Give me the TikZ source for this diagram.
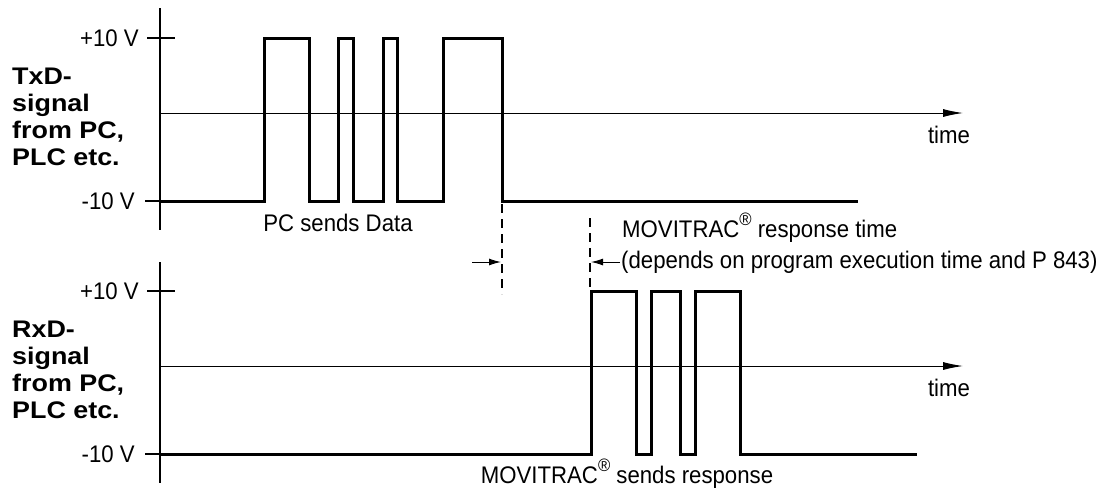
\documentclass[tikz,border=0pt]{standalone}
\usepackage{fontspec}
\setmainfont[FakeStretch=0.925,BoldFeatures={FakeStretch=1.12}]{Liberation Sans}
\usetikzlibrary{arrows.meta}
\newcommand{\regmark}{\raisebox{12pt}{\fontsize{18}{18}\selectfont\textregistered}}
\begin{document}
\begin{tikzpicture}[x=1pt,y=-1pt,
  txt/.style={inner sep=0pt,font=\fontsize{24}{26}\selectfont},
  lbl/.style={inner sep=0pt,align=left,font=\bfseries\fontsize{24}{27}\selectfont},
  axisline/.style={line width=1.5pt},
  midline/.style={line width=1pt,-{Latex[length=20pt,width=8pt]}},
  sig/.style={line width=3pt,line join=miter,line cap=butt},
  dim/.style={line width=1.2pt,dash pattern=on 9pt off 6pt},
  dimarrow/.style={line width=1pt,-{Latex[length=12pt,width=7pt]}}]
\useasboundingbox (0,0) rectangle (1105,488);
% ---------- top diagram ----------
\draw[axisline] (160,8) -- (160,230);
\draw[axisline] (147,38) -- (175,38);
\draw[axisline] (145,201) -- (160,201);
\draw[midline] (160,113) -- (963,113);
\node[txt,anchor=east] (tp) at (139,38) {+10 V};
\node[txt,anchor=east] (tm) at (135,201) {-10 V};
\node[lbl,anchor=west] (tl) at (12,117) {TxD-\\signal\\from PC,\\PLC etc.};
\node[txt,anchor=base] (tt) at (949,143) {time};
\draw[sig] (160,201) -- (264,201) -- (264,38) -- (309,38) -- (309,201) -- (338,201) -- (338,38)
  -- (353,38) -- (353,201) -- (383,201) -- (383,38) -- (397,38) -- (397,201) -- (443,201)
  -- (443,38) -- (502,38) -- (502,201) -- (858,201);
\node[txt] (pcs) at (338,223) {PC sends Data};
% ---------- dimension ----------
\coordinate (d1t) at (502,204);
\coordinate (d1b) at (502,294);
\coordinate (d2t) at (590,218);
\coordinate (d2b) at (590,291);
\draw[dim] (d1t) -- (d1b);
\draw[dim] (d2t) -- (d2b);
\coordinate (a1s) at (472,262);
\coordinate (a1e) at (501,262);
\coordinate (a2s) at (620,262);
\coordinate (a2e) at (591,262);
\draw[dimarrow] (a1s) -- (a1e);
\draw[dimarrow] (a2s) -- (a2e);
\node[txt,anchor=base west] (mr) at (622,237) {MOVITRAC\regmark\ response time};
\node[txt,anchor=west] (dep) at (621,262) {(depends on program execution time and P 843)};
% ---------- bottom diagram ----------
\draw[axisline] (160,262) -- (160,483);
\draw[axisline] (147,291) -- (175,291);
\draw[axisline] (145,454) -- (160,454);
\draw[midline] (160,366) -- (963,366);
\node[txt,anchor=east] (bp) at (139,291) {+10 V};
\node[txt,anchor=east] (bm) at (135,454) {-10 V};
\node[lbl,anchor=west] (bl) at (12,370) {RxD-\\signal\\from PC,\\PLC etc.};
\node[txt,anchor=base] (bt) at (949,396) {time};
\draw[sig] (160,454) -- (591,454) -- (591,291) -- (636,291) -- (636,454) -- (651,454) -- (651,291)
  -- (680,291) -- (680,454) -- (695,454) -- (695,291) -- (740,291) -- (740,454) -- (917,454);
\node[txt,anchor=base] (ms) at (627,483) {MOVITRAC\regmark\ sends response};
\end{tikzpicture}
\end{document}
